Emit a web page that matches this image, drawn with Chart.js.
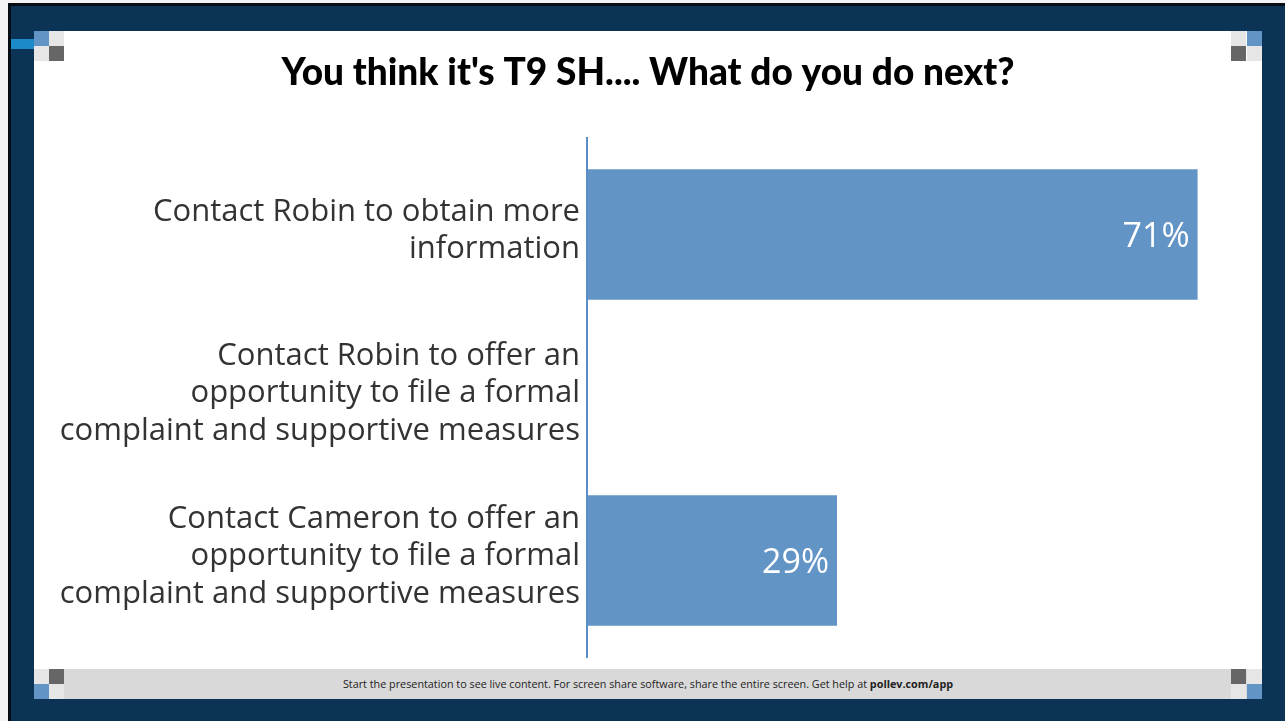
<!DOCTYPE html>
<html>
<head>
<meta charset="utf-8">
<title>Poll results</title>
<script src="https://cdn.jsdelivr.net/npm/chart.js@4/dist/chart.umd.min.js"></script>
<style>
  html, body { margin: 0; padding: 0; width: 1285px; height: 721px; overflow: hidden; background: #f4f4f4; }
  .frame { position: absolute; left: 8px; top: 3px; width: 1277px; height: 718px; background: #0b3355;
           border-left: 3px solid #050d14; border-top: 3px solid #050d14; box-sizing: border-box; }
  .panel { position: absolute; left: 34px; top: 31px; width: 1228px; height: 668px; background: #fff; }
  .accent { position: absolute; left: 11px; top: 39px; width: 23px; height: 10px; background: #1a8ac8; }
  .sq { position: absolute; width: 15px; height: 15px; }
  .b { background: #6394c6; } .l { background: #e6e6e6; } .d { background: #666; }
  .footer { position: absolute; left: 34px; top: 669px; width: 1228px; height: 30px; background: #d9d9d9;
            font-family: "Open Sans", "Noto Sans", sans-serif; font-size: 10.8px; color: #222;
            text-align: center; line-height: 30px; }
  .footer b { font-weight: 700; }
  #wrap { position: absolute; left: 34px; top: 31px; width: 1228px; height: 638px; }
</style>
</head>
<body>
<div class="frame"></div>
<div class="panel"></div>
<div class="accent"></div>

<div class="sq b" style="left:34px;top:31px"></div>
<div class="sq l" style="left:49px;top:31px"></div>
<div class="sq l" style="left:34px;top:46px"></div>
<div class="sq d" style="left:49px;top:46px"></div>

<div class="sq l" style="left:1231px;top:31px"></div>
<div class="sq b" style="left:1247px;top:31px"></div>
<div class="sq d" style="left:1231px;top:46px"></div>
<div class="sq l" style="left:1247px;top:46px"></div>

<div class="footer">Start the presentation to see live content. For screen share software, share the entire screen. Get help at <b>pollev.com/app</b></div>

<div class="sq l" style="left:34px;top:669px"></div>
<div class="sq d" style="left:49px;top:669px"></div>
<div class="sq b" style="left:34px;top:684px"></div>
<div class="sq l" style="left:49px;top:684px"></div>

<div class="sq d" style="left:1231px;top:669px"></div>
<div class="sq l" style="left:1247px;top:669px"></div>
<div class="sq l" style="left:1231px;top:684px"></div>
<div class="sq b" style="left:1247px;top:684px"></div>

<div id="wrap"><canvas id="chart" width="1228" height="638"></canvas></div>

<script>
// Poll question and answer options
const pollTitle = "You think it's T9 SH.... What do you do next?";
const answerOptions = [
  ['Contact Robin to obtain more', 'information'],
  ['Contact Robin to offer an', 'opportunity to file a formal', 'complaint and supportive measures'],
  ['Contact Cameron to offer an', 'opportunity to file a formal', 'complaint and supportive measures']
];
// Share of responses per option (percent)
const responseShare = [71, 0, 29];

const BAR_COLOR = '#6394c6';

// Vertical axis line that runs a little past the bars at both ends
const axisLine = {
  id: 'axisLine',
  beforeDatasetsDraw(chart) {
    const { ctx, chartArea } = chart;
    ctx.save();
    ctx.strokeStyle = '#5b8ec6';
    ctx.lineWidth = 2;
    ctx.beginPath();
    ctx.moveTo(chartArea.left - 1, chartArea.top - 16);
    ctx.lineTo(chartArea.left - 1, chartArea.bottom + 16);
    ctx.stroke();
    ctx.restore();
  }
};

// Percentage text written inside the end of each bar
const barValues = {
  id: 'barValues',
  afterDatasetsDraw(chart) {
    const { ctx } = chart;
    const meta = chart.getDatasetMeta(0);
    ctx.save();
    ctx.font = '34px "Open Sans", "Noto Sans", sans-serif';
    ctx.fillStyle = '#ffffff';
    ctx.textAlign = 'right';
    ctx.textBaseline = 'middle';
    meta.data.forEach((bar, i) => {
      const v = responseShare[i];
      if (!v) return;
      ctx.fillText(v + '%', bar.x - 8, bar.y + 3);
    });
    ctx.restore();
  }
};

new Chart(document.getElementById('chart'), {
  type: 'bar',
  data: {
    labels: answerOptions,
    datasets: [{
      data: responseShare,
      backgroundColor: BAR_COLOR,
      borderWidth: 0,
      categoryPercentage: 0.8,
      barPercentage: 1.0
    }]
  },
  options: {
    indexAxis: 'y',
    responsive: false,
    maintainAspectRatio: false,
    devicePixelRatio: 1,
    animation: false,
    layout: { padding: { left: 0, right: 0, top: 0, bottom: 27 } },
    plugins: {
      legend: { display: false },
      tooltip: { enabled: false },
      title: {
        display: true,
        text: pollTitle,
        color: '#000',
        font: { family: 'Lato, "Open Sans", sans-serif', size: 37, weight: '900' },
        padding: { top: 20, bottom: 57.6 }
      }
    },
    scales: {
      x: { display: false, min: 0, max: 78.5 },
      y: {
        grid: { display: false, drawTicks: false },
        border: { display: false },
        ticks: {
          color: '#333',
          padding: 8,
          labelOffset: -4,
          font: { family: '"Open Sans", "Noto Sans", sans-serif', size: 31, lineHeight: 1.21 }
        },
        afterFit(scale) {
          scale.width = 554;
          // labels sit inside their bands, so no extra room is needed above or below
          scale.paddingTop = 0;
          scale.paddingBottom = 0;
        }
      }
    }
  },
  plugins: [axisLine, barValues]
});
</script>
</body>
</html>
